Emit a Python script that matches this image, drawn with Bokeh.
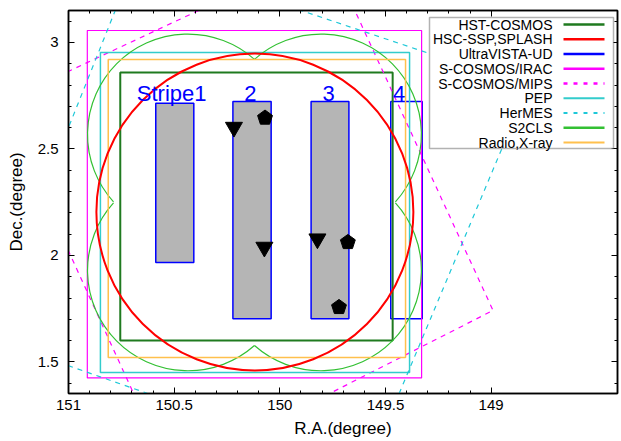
import numpy as np
from bokeh.plotting import figure
from bokeh.models import (Range1d, FixedTicker, LinearAxis, BoxAnnotation, Label, Arrow,
                          CustomLabelingPolicy)
from bokeh.core.properties import value
from bokeh.embed import file_html
from bokeh.resources import INLINE

# ---------------- data (degrees) ----------------
hst_ra = [150.755, 149.466]
hst_dec = [1.601, 2.859]

hsc_ra = [150.118]
hsc_dec = [2.204]
hsc_radius = 0.75

irac_ra = [150.911, 149.329]
irac_dec = [1.425, 3.056]

pep_ra = [150.849, 149.386]
pep_dec = [1.451, 2.953]

radio_ra = [150.812, 149.405]
radio_dec = [1.521, 2.920]

mips_ra = [149.776, 148.991, 150.517, 151.320]
mips_dec = [3.432, 1.742, 0.972, 2.716]

hermes_ra = [150.675, 148.826, 149.588, 151.395]
hermes_dec = [3.408, 2.793, 0.991, 1.620]

s2cls_ra = [150.435, 149.805]
s2cls_dec = [2.568, 1.930]
s2cls_radius = 0.475

stripe_ra_left = [150.587, 150.222, 149.852, 149.475]
stripe_ra_right = [150.407, 150.041, 149.673, 149.326]
stripe_dec_bottom = [1.967, 1.703, 1.703, 1.703]
stripe_dec_top = [2.715, 2.723, 2.723, 2.723]
stripe_filled = [True, True, True, False]
stripe_labels = ["Stripe1", "2", "3", "4"]
stripe_label_ra = [150.512, 150.139, 149.769, 149.435]
stripe_label_dec = [2.761, 2.761, 2.761, 2.761]

tri_ra = [150.217, 150.073, 149.822]
tri_dec = [2.602, 2.039, 2.078]
pent_ra = [150.070, 149.678, 149.720]
pent_dec = [2.646, 2.062, 1.757]

x_major = [151, 150.5, 150, 149.5, 149]
x_minor = [150.9, 150.8, 150.7, 150.6, 150.4, 150.3, 150.2, 150.1,
           149.9, 149.8, 149.7, 149.6, 149.4, 149.3, 149.2, 149.1]
y_major = [1.5, 2, 2.5, 3]
y_minor = [1.4, 1.6, 1.7, 1.8, 1.9, 2.1, 2.2, 2.3, 2.4, 2.6, 2.7, 2.8, 2.9, 3.1]

legend_names = ["HST-COSMOS", "HSC-SSP,SPLASH", "UltraVISTA-UD", "S-COSMOS/IRAC",
                "S-COSMOS/MIPS", "PEP", "HerMES", "S2CLS", "Radio,X-ray"]

# ---------------- styles ----------------
C_HST = "#1f7a1f"
C_HSC = "#ff0000"
C_UV = "#0000ff"
C_IRAC = "#ff00ff"
C_MIPS = "#ff00ff"
C_PEP = "#33cccc"
C_HER = "#1fc8d8"
C_S2 = "#33c033"
C_RAD = "#ffc04d"
FONT = "Liberation Sans"

W, H = 621, 441
MB_L, MB_R, MB_T, MB_B = 68, 1, 10, 48

p = figure(width=W, height=H, output_backend="svg", toolbar_location=None,
           x_range=Range1d(151, 148.402), y_range=Range1d(1.352, 3.15),
           min_border_left=MB_L, min_border_right=MB_R, min_border_top=MB_T,
           min_border_bottom=MB_B, x_axis_label="R.A.(degree)", y_axis_label="Dec.(degree)")
p.grid.visible = False
p.outline_line_color = "black"
p.outline_line_width = 1.5

xt = FixedTicker(ticks=x_major, minor_ticks=x_minor)
yt = FixedTicker(ticks=y_major, minor_ticks=y_minor)
p.xaxis.ticker = xt
p.yaxis.ticker = yt

def style_axis(ax):
    ax.major_tick_in = 6
    ax.major_tick_out = 0
    ax.minor_tick_in = 3
    ax.minor_tick_out = 0
    ax.axis_line_color = "black"
    ax.axis_line_width = 1.5
    ax.major_tick_line_color = "black"
    ax.minor_tick_line_color = "black"
    ax.major_label_text_font = FONT
    ax.major_label_text_font_size = "15px"
    ax.major_label_text_color = "black"
    ax.axis_label_text_font = FONT
    ax.axis_label_text_font_size = "17px"
    ax.axis_label_text_font_style = "normal"
    ax.axis_label_text_color = "black"

for ax in p.xaxis + p.yaxis:
    style_axis(ax)
p.xaxis.major_label_standoff = 6
p.xaxis.axis_label_standoff = 6
p.yaxis.major_label_standoff = 10
p.yaxis.axis_label_standoff = 9

# mirrored tick marks on top and right (no labels)
no_labels = CustomLabelingPolicy(code="return new Set()")
for side, tick in (("above", xt), ("right", yt)):
    ax = LinearAxis(ticker=tick)
    style_axis(ax)
    ax.major_label_text_font_size = "1px"
    ax.major_label_standoff = 0
    ax.major_label_policy = no_labels
    ax.axis_label = None
    p.add_layout(ax, side)

# ---------------- fields ----------------
for i in range(len(stripe_labels)):
    p.quad(left=[stripe_ra_left[i]], right=[stripe_ra_right[i]],
           bottom=[stripe_dec_bottom[i]], top=[stripe_dec_top[i]],
           fill_color="#b5b5b5" if stripe_filled[i] else None,
           line_color=C_UV, line_width=1.5)

p.quad(left=[hst_ra[0]], right=[hst_ra[1]], bottom=[hst_dec[0]], top=[hst_dec[1]],
       fill_color=None, line_color=C_HST, line_width=2)
p.quad(left=[irac_ra[0]], right=[irac_ra[1]], bottom=[irac_dec[0]], top=[irac_dec[1]],
       fill_color=None, line_color=C_IRAC, line_width=1.2)
p.patch(mips_ra, mips_dec, fill_color=None, line_color=C_MIPS, line_width=1.2, line_dash="5 5")
p.quad(left=[pep_ra[0]], right=[pep_ra[1]], bottom=[pep_dec[0]], top=[pep_dec[1]],
       fill_color=None, line_color=C_PEP, line_width=1.5)
p.patch(hermes_ra, hermes_dec, fill_color=None, line_color=C_HER, line_width=1.2, line_dash="5 5")

# S2CLS: outer boundary of four overlapping circles
hx = abs(s2cls_ra[0] - s2cls_ra[1]) / 2
hy = abs(s2cls_dec[0] - s2cls_dec[1]) / 2
a_top = np.arccos(hx / s2cls_radius)
a_side = np.arcsin(hy / s2cls_radius)
cx = [s2cls_ra[0], s2cls_ra[1], s2cls_ra[0], s2cls_ra[1]]
cy = [s2cls_dec[0], s2cls_dec[0], s2cls_dec[1], s2cls_dec[1]]
starts = [a_top, -a_side, np.pi - a_side, np.pi + a_top]
ends = [np.pi + a_side, np.pi - a_top, 2 * np.pi - a_top, 2 * np.pi + a_side]
p.arc(x=cx, y=cy, radius=s2cls_radius, start_angle=starts, end_angle=ends,
      line_color=C_S2, line_width=1.2)

p.quad(left=[radio_ra[0]], right=[radio_ra[1]], bottom=[radio_dec[0]], top=[radio_dec[1]],
       fill_color=None, line_color=C_RAD, line_width=1.5)

p.circle(x=hsc_ra, y=hsc_dec, radius=hsc_radius, fill_color=None,
         line_color=C_HSC, line_width=2)

# stripe labels
p.text(x=stripe_label_ra, y=stripe_label_dec, text=stripe_labels,
       text_font=value(FONT), text_font_size=value("22px"), text_color=C_UV,
       text_align="center", text_baseline="alphabetic")

# markers
p.scatter(x=tri_ra, y=tri_dec, marker="inverted_triangle", size=17,
          fill_color="black", line_color="black")
p.ngon(x=pent_ra, y=pent_dec, radius=0.037, n=5, angle=0,
       fill_color="black", line_color="black")

# ---------------- legend (gnuplot style: text left, sample right) ----------------
frame_h = H - MB_T - MB_B
box_l, box_r, box_t, box_b = 361, 545, frame_h - 7, frame_h - 138
p.add_layout(BoxAnnotation(left=box_l, right=box_r, top=box_t, bottom=box_b,
                           left_units="screen", right_units="screen",
                           top_units="screen", bottom_units="screen",
                           fill_color="white", fill_alpha=1.0,
                           line_color="black", line_width=1.5, level="annotation"))
leg_colors = [C_HST, C_HSC, C_UV, C_IRAC, C_MIPS, C_PEP, C_HER, C_S2, C_RAD]
leg_widths = [2.5, 2.5, 2.5, 2.5, 2.5, 2, 2, 2.5, 2]
leg_dash = ["solid", "solid", "solid", "solid", "4 6", "solid", "4 6", "solid", "solid"]
for i, name in enumerate(legend_names):
    yy = box_t - 7 - i * 14.75
    p.add_layout(Arrow(end=None, x_start=495, y_start=yy, x_end=536, y_end=yy,
                       start_units="screen", end_units="screen",
                       line_color=leg_colors[i], line_width=leg_widths[i],
                       line_dash=leg_dash[i]))
    p.add_layout(Label(x=484, y=yy, x_units="screen", y_units="screen", text=name,
                       text_align="right", text_baseline="middle",
                       text_font=FONT, text_font_size="14px", text_color="black"))

open("out.html", "w").write(file_html(p, INLINE))
